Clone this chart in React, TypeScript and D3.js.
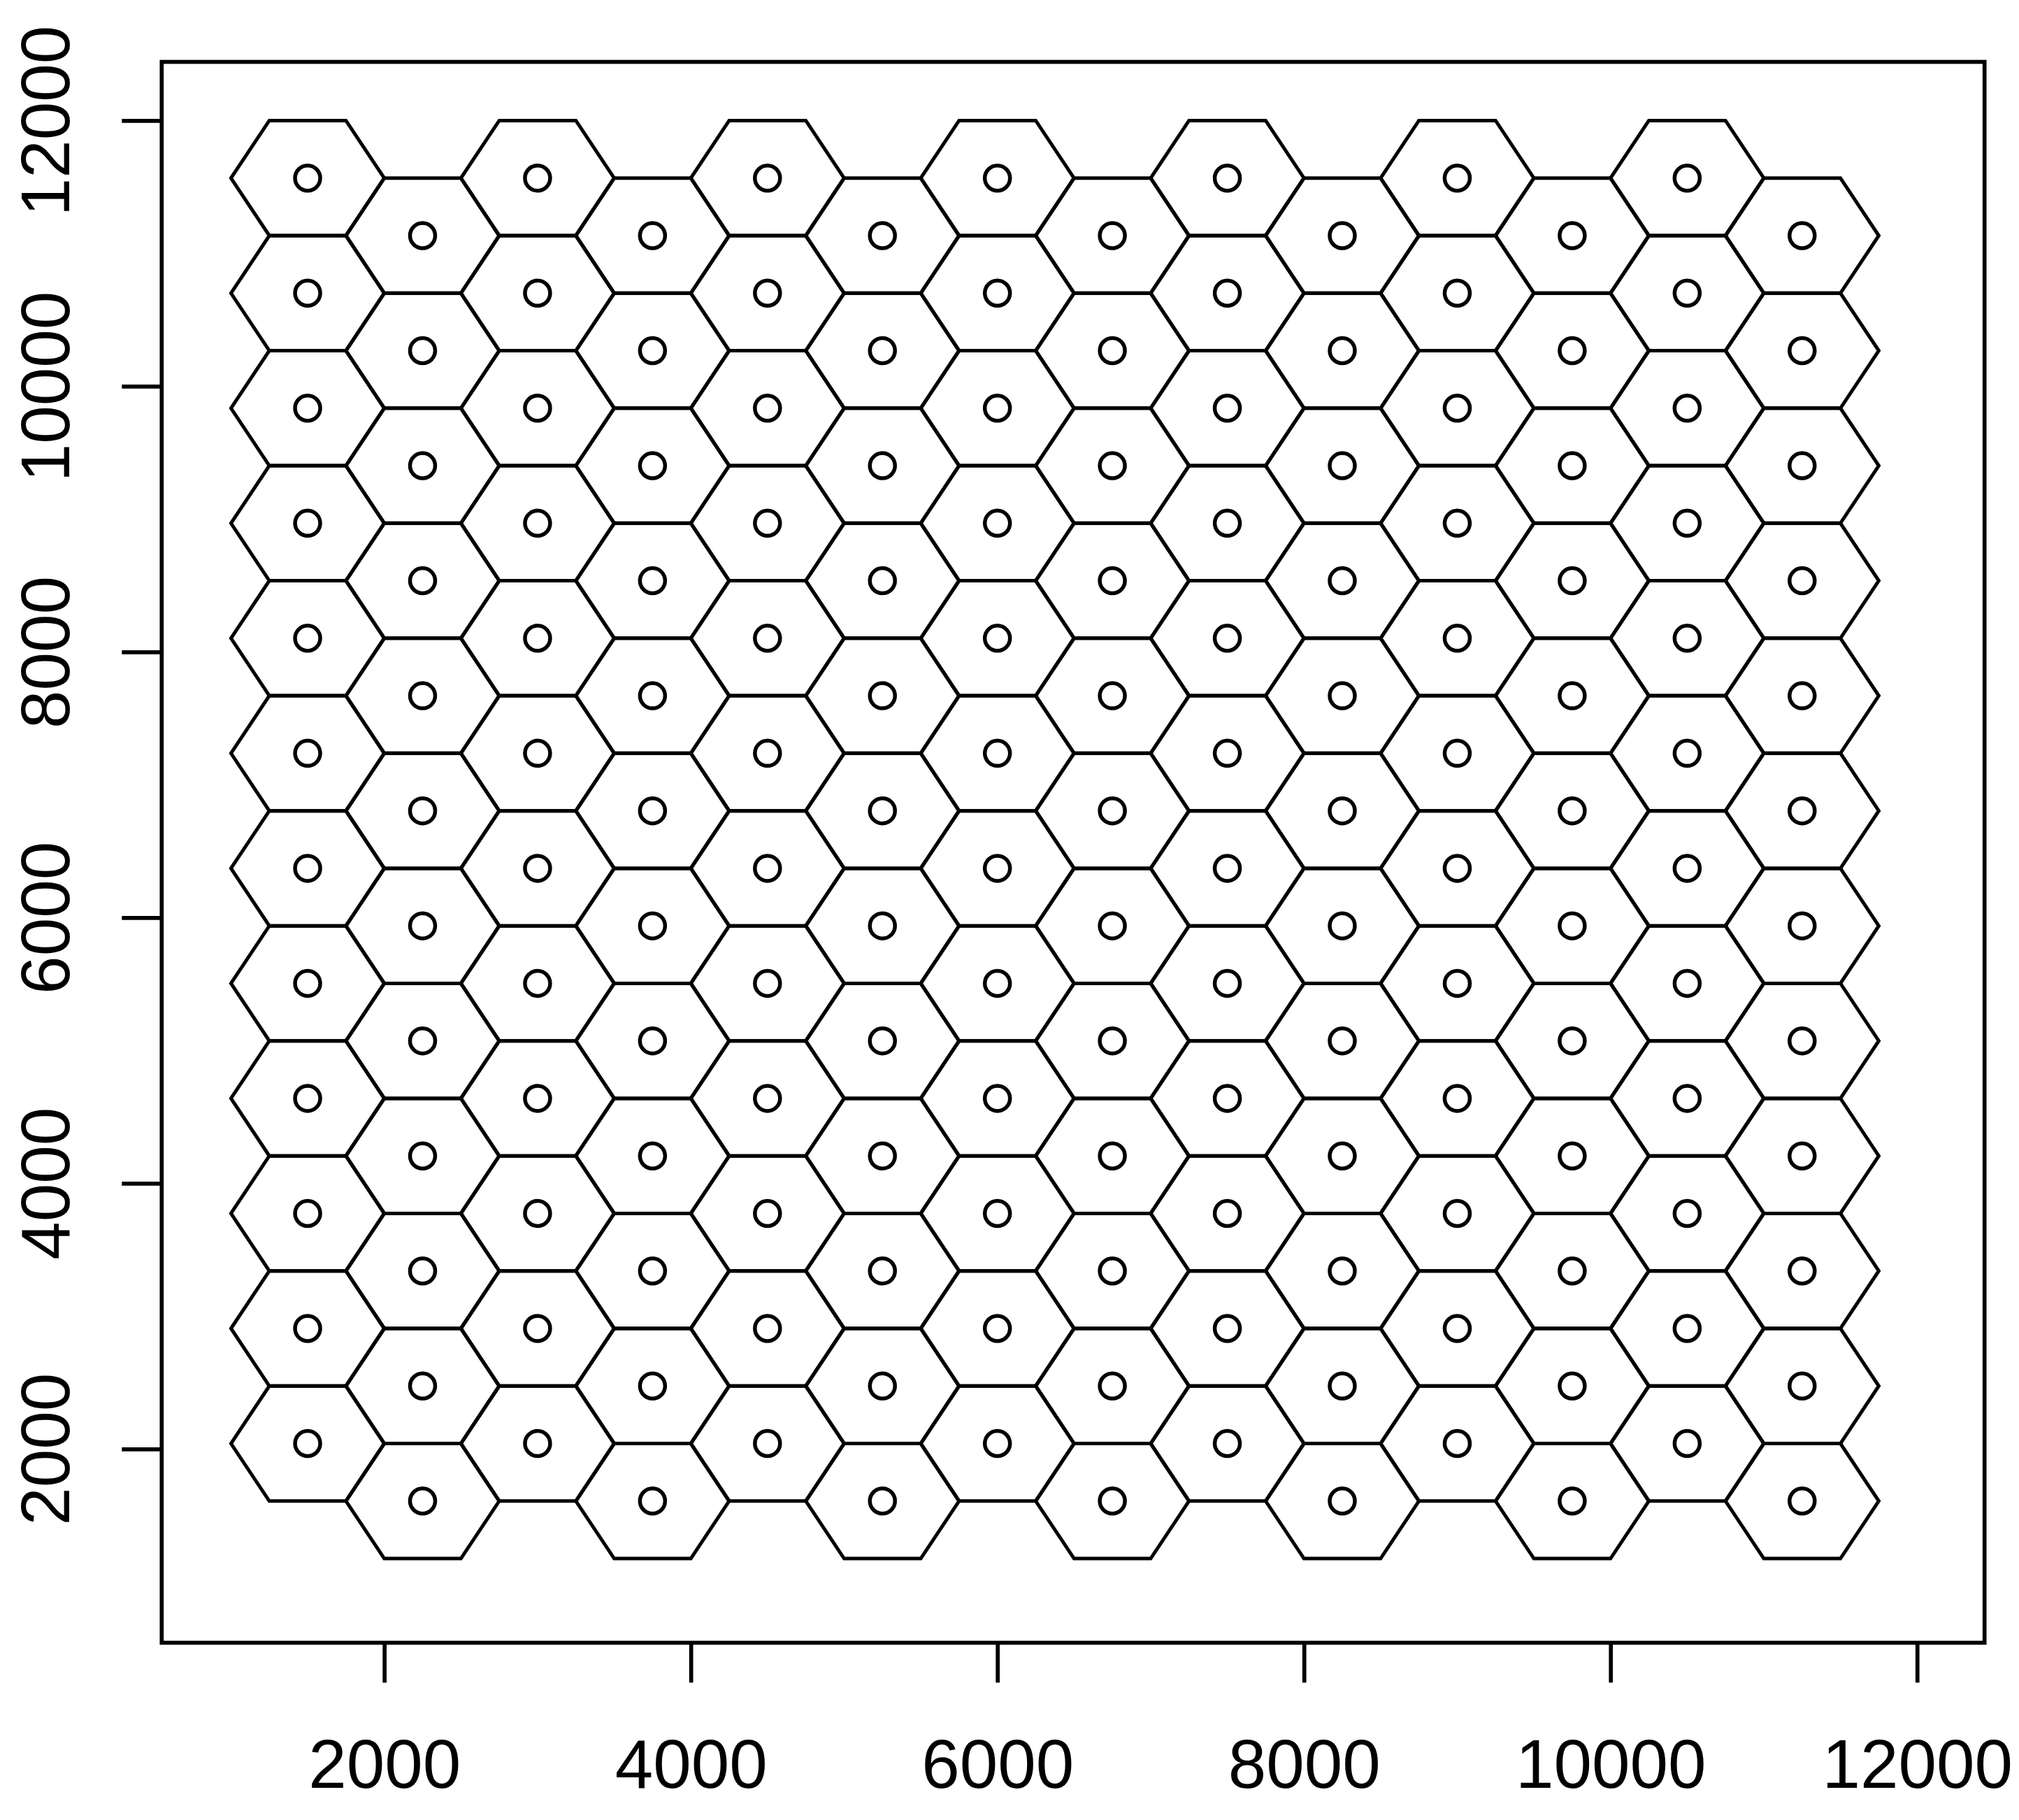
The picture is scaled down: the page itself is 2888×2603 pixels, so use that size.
import React, { useEffect, useRef } from "react";
import * as d3 from "d3";

// hexagon centres (map units)
const columnX = [1500, 2250, 3000, 3750, 4500, 5250, 6000, 6750, 7500, 8250, 9000, 9750, 10500, 11250];
const rowsHigh = [2041, 2907, 3773, 4639, 5505, 6371, 7237, 8103, 8969, 9835, 10701, 11567];
const rowsLow = [1608, 2474, 3340, 4206, 5072, 5938, 6804, 7670, 8536, 9402, 10268, 11134];
const hexSide = 500;

const xTicks = [2000, 4000, 6000, 8000, 10000, 12000];
const yTicks = [2000, 4000, 6000, 8000, 10000, 12000];
const xLimits = [548, 12440];
const yLimits = [541, 12442];

const width = 2888;
const height = 2603;
const margin = { top: 88.5, right: 49.3, bottom: 253.5, left: 231.3 };

export default function App() {
  const ref = useRef<SVGSVGElement | null>(null);

  useEffect(() => {
    const svg = d3.select(ref.current);
    svg.selectAll("*").remove();

    const iwidth = width - margin.left - margin.right;
    const iheight = height - margin.top - margin.bottom;

    const x = d3.scaleLinear().domain(xLimits).range([0, iwidth]);
    const y = d3.scaleLinear().domain(yLimits).range([iheight, 0]);

    const g = svg
      .append("g")
      .attr("transform", `translate(${margin.left},${margin.top})`);

    const centers = columnX.flatMap((cx, i) =>
      (i % 2 === 0 ? rowsHigh : rowsLow).map(cy => ({ cx, cy }))
    );

    const h = (hexSide * Math.sqrt(3)) / 2;
    const hexLine = d3
      .line<[number, number]>()
      .x(d => x(d[0]))
      .y(d => y(d[1]))
      .curve(d3.curveLinearClosed);

    const hexPoints = (c: { cx: number; cy: number }): [number, number][] => [
      [c.cx - hexSide, c.cy],
      [c.cx - hexSide / 2, c.cy + h],
      [c.cx + hexSide / 2, c.cy + h],
      [c.cx + hexSide, c.cy],
      [c.cx + hexSide / 2, c.cy - h],
      [c.cx - hexSide / 2, c.cy - h]
    ];

    g.append("g")
      .selectAll("path")
      .data(centers)
      .enter()
      .append("path")
      .attr("d", d => hexLine(hexPoints(d)))
      .attr("fill", "none")
      .attr("stroke", "#000")
      .attr("stroke-width", 5)
      .attr("stroke-linejoin", "miter");

    g.append("g")
      .selectAll("circle")
      .data(centers)
      .enter()
      .append("circle")
      .attr("cx", d => x(d.cx))
      .attr("cy", d => y(d.cy))
      .attr("r", 18)
      .attr("fill", "none")
      .attr("stroke", "#000")
      .attr("stroke-width", 5.5);

    // plot box
    g.append("rect")
      .attr("x", 0)
      .attr("y", 0)
      .attr("width", iwidth)
      .attr("height", iheight)
      .attr("fill", "none")
      .attr("stroke", "#000")
      .attr("stroke-width", 5.7);

    const xAxis = g
      .append("g")
      .attr("transform", `translate(0,${iheight})`)
      .call(d3.axisBottom(x).tickValues(xTicks).tickSize(57).tickSizeOuter(0).tickFormat(d3.format("d")));
    xAxis.select(".domain").remove();
    xAxis.selectAll("line").attr("stroke", "#000").attr("stroke-width", 5.7);
    xAxis
      .selectAll("text")
      .attr("y", 207)
      .attr("dy", 0)
      .attr("fill", "#000")
      .attr("font-size", 98)
      .attr("font-family", "'Liberation Sans', Arial, sans-serif");

    const yAxis = g
      .append("g")
      .call(d3.axisLeft(y).tickValues(yTicks).tickSize(57).tickSizeOuter(0).tickFormat(d3.format("d")));
    yAxis.select(".domain").remove();
    yAxis.selectAll("line").attr("stroke", "#000").attr("stroke-width", 5.7);
    yAxis
      .selectAll("text")
      .attr("transform", "rotate(-90)")
      .attr("x", 0)
      .attr("y", -132)
      .attr("dy", 0)
      .attr("text-anchor", "middle")
      .attr("fill", "#000")
      .attr("font-size", 98)
      .attr("font-family", "'Liberation Sans', Arial, sans-serif");
  }, []);

  return (
    <svg
      ref={ref}
      width={width}
      height={height}
      style={{ position: "absolute", left: 0, top: 0, background: "#fff", display: "block" }}
    />
  );
}
